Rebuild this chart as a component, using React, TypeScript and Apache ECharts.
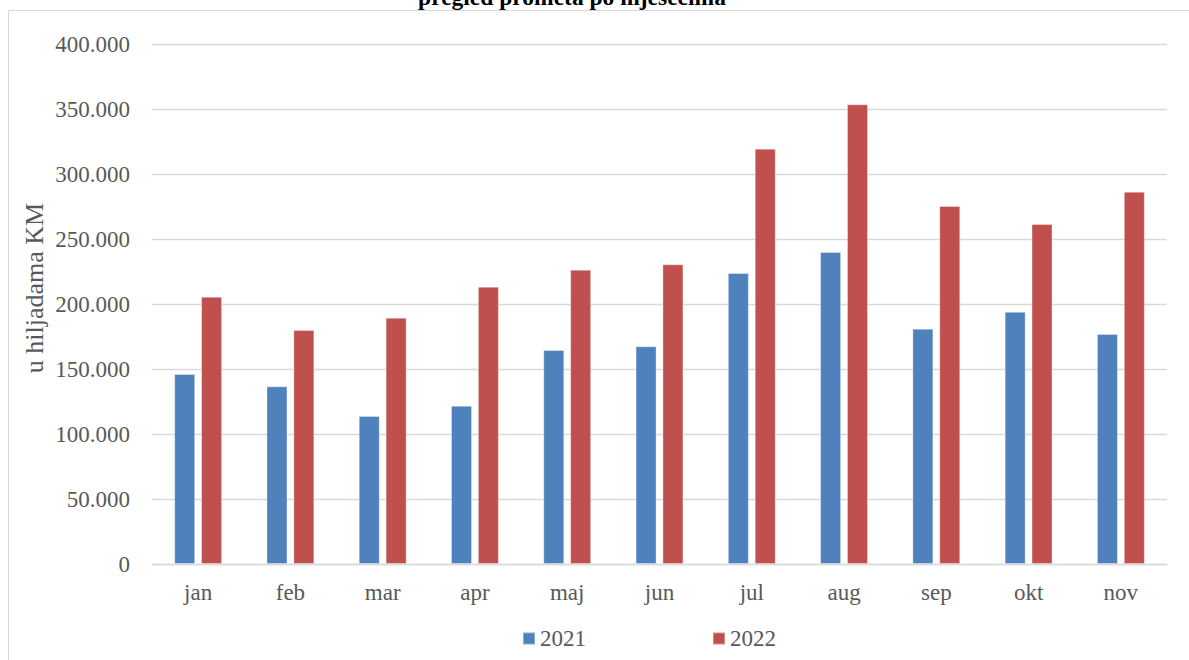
import React, { useEffect, useRef } from "react";
import * as echarts from "echarts";

const months = ["jan", "feb", "mar", "apr", "maj", "jun", "jul", "aug", "sep", "okt", "nov"];
const values2021 = [146200, 136700, 113800, 121800, 164600, 167500, 223800, 240000, 181000, 194000, 177000];
const values2022 = [205600, 180000, 189500, 213300, 226400, 230500, 319500, 353600, 275400, 261500, 286400];
const seriesNames = ["2021", "2022"];
const yTicks = [0, 50000, 100000, 150000, 200000, 250000, 300000, 350000, 400000];

const FONT = "'Liberation Serif', 'Times New Roman', serif";
const TEXT = "#595959";
const FS = 23;

function fmt(v: number): string {
  return String(Math.round(v)).replace(/\B(?=(\d{3})+(?!\d))/g, ".");
}

export default function App() {
  const ref = useRef<HTMLDivElement>(null);
  useEffect(() => {
    document.body.style.margin = "0";
    const chart = echarts.init(ref.current!, undefined, { renderer: "svg" });
    chart.setOption({
      animation: false,
      backgroundColor: "#ffffff",
      grid: { left: 152, right: 22, top: 44, bottom: 96, containLabel: false },
      graphic: [
        {
          type: "rect",
          shape: { x: 8.5, y: 10.5, width: 1200, height: 700 },
          style: { fill: "none", stroke: "#d9d9d9", lineWidth: 1 },
          silent: true,
          z: -1,
        },
        {
          type: "text",
          x: 572,
          y: -3,
          style: {
            text: "pregled prometa po mjesecima",
            fontFamily: FONT,
            fontWeight: "bold",
            fontSize: 23.5,
            fill: "#000000",
            textAlign: "center",
            textVerticalAlign: "middle",
          },
        },
        {
          type: "text",
          x: 34,
          y: 288,
          rotation: Math.PI / 2,
          style: {
            text: "u hiljadama KM",
            fontFamily: FONT,
            fontSize: 26,
            fill: TEXT,
            textAlign: "center",
            textVerticalAlign: "middle",
          },
        },
      ],
      legend: {
        data: seriesNames,
        left: 517,
        top: 622,
        itemWidth: 12,
        itemHeight: 12,
        itemGap: 126,
        icon: "rect",
        textStyle: { fontFamily: FONT, fontSize: FS, color: TEXT },
      },
      xAxis: {
        type: "category",
        data: months,
        axisTick: { show: false },
        axisLine: { lineStyle: { color: "#d9d9d9", width: 1.3 } },
        axisLabel: { fontFamily: FONT, fontSize: FS, color: TEXT, margin: 17 },
      },
      yAxis: {
        type: "value",
        min: yTicks[0],
        max: yTicks[yTicks.length - 1],
        interval: 50000,
        axisLine: { show: false },
        axisTick: { show: false },
        splitLine: { lineStyle: { color: "#d9d9d9", width: 1.3 } },
        axisLabel: {
          fontFamily: FONT,
          fontSize: FS,
          color: TEXT,
          margin: 22,
          formatter: (v: number) => fmt(v),
        },
      },
      series: [
        {
          name: seriesNames[0],
          type: "bar",
          data: values2021,
          barWidth: 21,
          barGap: "28%",
          itemStyle: { color: "#4F81BD", borderColor: "rgba(255,255,255,0.35)", borderWidth: 1 },
        },
        {
          name: seriesNames[1],
          type: "bar",
          data: values2022,
          barWidth: 21,
          barGap: "28%",
          itemStyle: { color: "#C0504D", borderColor: "rgba(255,255,255,0.35)", borderWidth: 1 },
        },
      ],
    });
    return () => chart.dispose();
  }, []);
  return <div ref={ref} style={{ width: 1189, height: 660 }} />;
}
